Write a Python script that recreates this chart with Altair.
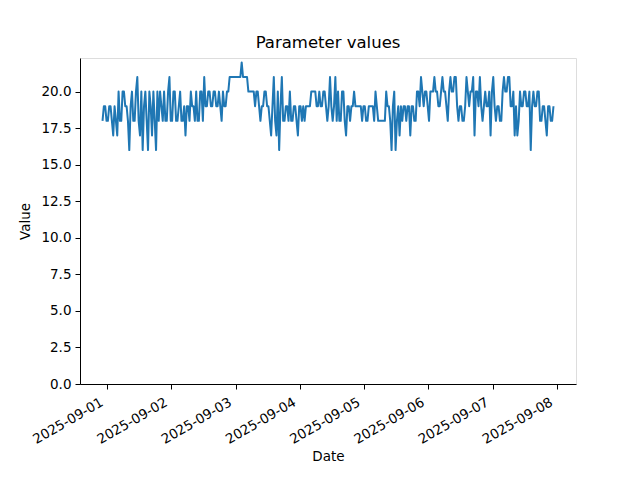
import altair as alt
import pandas as pd

# half-hourly readings, starting 2025-08-31 22:15
values = [
    18, 19, 19, 18, 18, 19, 19, 18, 17, 19, 18, 17, 20, 18, 18, 20, 20, 19, 19, 18, 16, 19, 20, 18,
    18, 20, 21, 18, 17, 20, 16, 19, 20, 18, 16, 20, 19, 17, 20, 18, 16, 20, 18, 20, 19, 18, 20, 18,
    18, 20, 21, 18, 18, 20, 20, 18, 18, 19, 20, 18, 18, 19, 17, 19, 19, 18, 20, 19, 19, 18, 20, 18,
    18, 20, 20, 18, 21, 19, 19, 20, 20, 19, 19, 20, 20, 19, 19, 20, 19, 18, 20, 19, 19, 20, 20, 21,
    21, 21, 21, 21, 21, 21, 21, 21, 22, 21, 21, 21, 21, 20, 20, 20, 20, 20, 19, 20, 20, 19, 18, 19,
    19, 20, 20, 19, 19, 18, 17, 19, 21, 18, 17, 20, 16, 19, 21, 18, 18, 19, 19, 18, 20, 18, 18, 19,
    19, 18, 17, 19, 19, 18, 19, 18, 19, 19, 19, 19, 20, 20, 20, 20, 19, 19, 20, 19, 19, 20, 20, 19,
    18, 19, 21, 19, 18, 19, 21, 18, 20, 18, 18, 20, 20, 18, 17, 19, 19, 18, 19, 19, 20, 19, 19, 19,
    19, 19, 18, 19, 19, 18, 18, 19, 19, 19, 19, 18, 20, 19, 18, 18, 18, 18, 18, 18, 20, 19, 19, 18,
    16, 19, 20, 16, 18, 19, 17, 19, 18, 19, 19, 18, 19, 19, 17, 19, 19, 18, 18, 20, 20, 19, 21, 20,
    19, 20, 20, 19, 18, 20, 20, 20, 21, 20, 20, 19, 19, 20, 21, 20, 20, 19, 18, 20, 21, 20, 20, 21,
    21, 19, 18, 19, 19, 18, 18, 19, 21, 20, 19, 20, 20, 21, 17, 20, 20, 19, 21, 19, 18, 19, 20, 19,
    19, 20, 17, 20, 21, 19, 18, 19, 19, 18, 18, 20, 21, 20, 20, 21, 21, 19, 19, 20, 17, 19, 17, 18,
    20, 19, 19, 20, 20, 19, 19, 20, 16, 19, 20, 19, 19, 20, 20, 18, 18, 19, 19, 18, 17, 19, 19, 18, 18, 19,
]
start = "2025-08-31 22:15:00"
tick_days = [1, 2, 3, 4, 5, 6, 7, 8]
y_ticks = [0, 2.5, 5, 7.5, 10, 12.5, 15, 17.5, 20]

times = pd.date_range(start, periods=len(values), freq="30min")
df = pd.DataFrame({"Date": times.strftime("%Y-%m-%dT%H:%M:%S"), "Value": values})

font = "DejaVu Sans"

x_axis = alt.Axis(
    values=[alt.DateTime(year=2025, month=9, date=d) for d in tick_days],
    format="%Y-%m-%d",
    formatType="time",
    labelAngle=-30,
    labelAlign="right",
    labelBaseline="top",
    labelOverlap=False,
    labelOffset=-9,
    labelFont=font,
    labelFontSize=13.5,
    labelColor="black",
    labelPadding=6,
    tickSize=5,
    tickColor="black",
    domainColor="black",
    grid=False,
    title="Date",
    titleFont=font,
    titleFontSize=13.5,
    titleFontWeight="normal",
    titleColor="black",
    titlePadding=4,
)
y_axis = alt.Axis(
    values=y_ticks,
    format=".1f",
    labelOverlap=False,
    labelFont=font,
    labelFontSize=13.5,
    labelColor="black",
    labelPadding=4,
    tickSize=5,
    tickColor="black",
    domainColor="black",
    grid=False,
    title="Value",
    titleFont=font,
    titleFontSize=13.5,
    titleFontWeight="normal",
    titleColor="black",
    titlePadding=8,
)

chart = (
    alt.Chart(df)
    .mark_line(color="#1f77b4", strokeWidth=2, strokeJoin="round", clip=True)
    .encode(
        x=alt.X(
            "Date:T",
            axis=x_axis,
            scale=alt.Scale(
                domain=[
                    alt.DateTime(year=2025, month=8, date=31, hours=13, minutes=50),
                    alt.DateTime(year=2025, month=9, date=8, hours=7, minutes=10),
                ],
                nice=False,
            ),
        ),
        y=alt.Y(
            "Value:Q",
            axis=y_axis,
            scale=alt.Scale(domain=[0, 22.3], nice=False, zero=True),
        ),
    )
    .properties(
        width=496,
        height=326,
        title=alt.TitleParams(
            "Parameter values",
            font=font,
            fontSize=16.5,
            fontWeight="normal",
            color="black",
            offset=7,
        ),
        autosize=alt.AutoSizeParams(type="none"),
        padding={"left": 72, "top": 50, "right": 56, "bottom": 88},
    )
    .configure_view(stroke="black", strokeWidth=1)
    .configure(background="white")
)

chart.save("out.html", embed_options={"renderer": "svg", "actions": False})
